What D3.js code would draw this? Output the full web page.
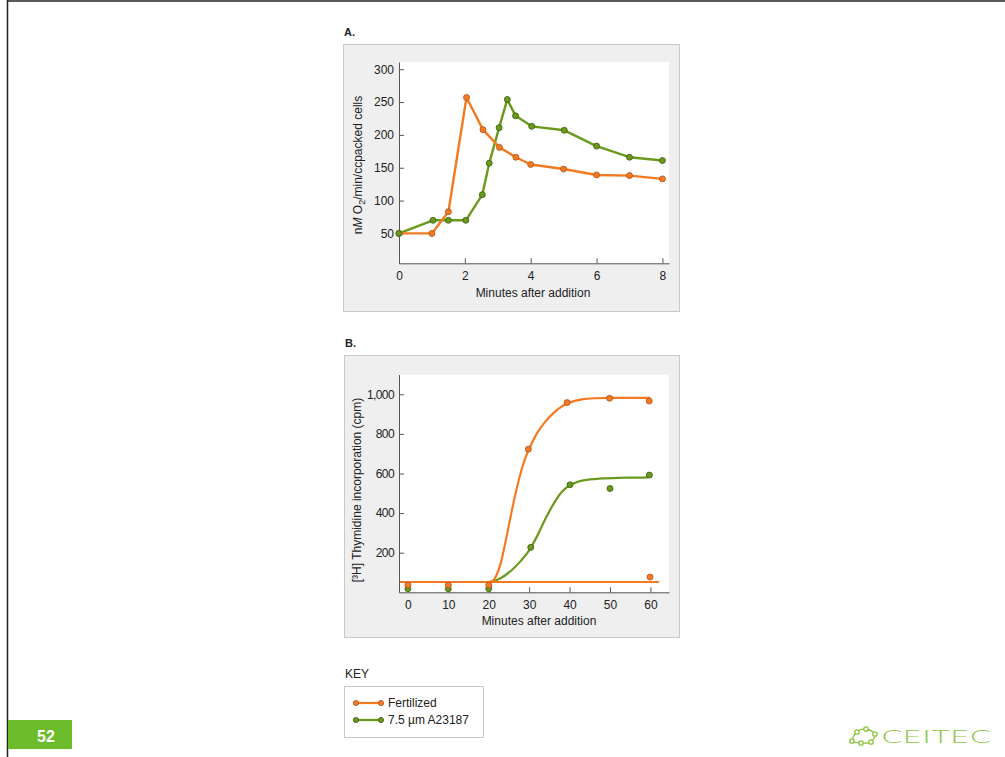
<!DOCTYPE html>
<html>
<head>
<meta charset="utf-8">
<script src="https://cdn.jsdelivr.net/npm/d3@7"></script>
<style>
  html, body { margin: 0; padding: 0; background: #fff; }
  svg { display: block; font-family: "Liberation Sans", Arial, sans-serif; }
</style>
</head>
<body>
<svg id="chart" width="1005" height="757"></svg>
<script>
// ---- Panel A: oxygen consumption (nM O2/min/cc packed cells) ----
const fertMinutesA = [0, 1, 1.5, 2.05, 2.55, 3.05, 3.55, 4, 5, 6, 7, 8];
const fertO2 = [50, 50, 83, 257, 208, 181, 166, 155, 148, 139, 138, 133];
const ionoMinutesA = [0, 1.03, 1.5, 2.03, 2.53, 2.74, 3.04, 3.29, 3.54, 4.03, 5.02, 6, 7, 8];
const ionoO2 = [50, 70, 70, 70, 109, 157, 211, 254, 229, 213, 207, 183, 166, 161];
const ticksAX = [0, 2, 4, 6, 8];
const ticksAY = [50, 100, 150, 200, 250, 300];

// ---- Panel B: [3H] thymidine incorporation (cpm) ----
const fertMinutesB = [0, 10, 20, 29.8, 39.4, 49.9, 59.7, 59.9];
const fertCpm = [37, 37, 37, 723, 958, 980, 966, 77];
const ionoMinutesB = [0, 10, 20, 30.4, 40.1, 50, 59.75];
const ionoCpm = [18, 18, 18, 227, 543, 524, 592];
// fitted curves drawn through the measurements
const fertCurveX = [20, 21, 22, 23, 24, 25, 26, 27, 28, 29, 30, 32, 34, 36, 38, 40, 43, 46, 50, 55, 60];
const fertCurveY = [52, 58, 90, 150, 240, 340, 440, 530, 610, 675, 725, 805, 862, 905, 938, 958, 974, 980, 982, 982, 982];
const ionoCurveX = [20, 22, 24, 26, 28, 30, 32, 34, 36, 38, 40, 42, 45, 48, 52, 56, 59.5];
const ionoCurveY = [50, 62, 85, 118, 160, 212, 285, 370, 445, 505, 540, 558, 570, 575, 578, 579, 580];
const baselineX = [-2, 62.1];
const baselineY = [52, 52];
const ticksBX = [0, 10, 20, 30, 40, 50, 60];
const ticksBY = [200, 400, 600, 800, 1000];

// ---- Key ----
const keyLabels = ["Fertilized", "7.5 \u00b5m A23187"];

const ORANGE = "#f47a22", ORANGE_DARK = "#a9531a";
const GREEN = "#6a9a1c", GREEN_DARK = "#3d5a0e";
const AXIS = "#555", TEXT = "#222";

const svg = d3.select("#chart");

// slide frame
svg.append("line").attr("x1", 7.5).attr("x2", 7.5).attr("y1", 0).attr("y2", 757)
  .attr("stroke", "#222").attr("stroke-width", 1.5);
svg.append("line").attr("x1", 7).attr("x2", 1005).attr("y1", 1).attr("y2", 1)
  .attr("stroke", "#222").attr("stroke-width", 1.5);

function panel(cfg) {
  const g = svg.append("g");
  // grey panel box
  g.append("rect").attr("x", cfg.box[0] + 0.5).attr("y", cfg.box[1] + 0.5)
    .attr("width", cfg.box[2]).attr("height", cfg.box[3])
    .attr("fill", "#efefef").attr("stroke", "#c9c9c9");
  // panel letter
  g.append("text").attr("x", cfg.box[0] + 1).attr("y", cfg.box[1] - 8)
    .attr("font-size", 11).attr("font-weight", "bold").attr("fill", TEXT).text(cfg.letter);

  const x = cfg.x, y = cfg.y;
  const [x0, x1] = x.range(), [y0, y1] = y.range();
  // white plot area
  g.append("rect").attr("x", x0).attr("y", y1).attr("width", x1 - x0).attr("height", y0 - y1)
    .attr("fill", "#fff");

  // axes with inward ticks
  const ax = g.append("g").attr("transform", `translate(0,${y0})`)
    .call(d3.axisBottom(x).tickValues(cfg.ticksX).tickSizeInner(-5).tickSizeOuter(0).tickPadding(6).tickFormat(cfg.fmtX || d3.format("d")));
  const ay = g.append("g").attr("transform", `translate(${x0},0)`)
    .call(d3.axisLeft(y).tickValues(cfg.ticksY).tickSizeInner(-5).tickSizeOuter(0).tickPadding(5).tickFormat(cfg.fmtY || d3.format("d")));
  [ax, ay].forEach(a => {
    a.select(".domain").attr("stroke", AXIS);
    a.selectAll(".tick line").attr("stroke", AXIS);
    a.selectAll("text").attr("font-size", 12).attr("fill", TEXT)
      .attr("font-family", "'Liberation Sans', Arial, sans-serif");
  });
  ax.selectAll("text").attr("dy", "0.9em");
  if (cfg.yTickSpacing) ay.selectAll("text").attr("letter-spacing", cfg.yTickSpacing);

  // axis titles
  g.append("text").attr("x", cfg.xTitlePos[0]).attr("y", cfg.xTitlePos[1])
    .attr("text-anchor", "middle").attr("font-size", 12).attr("fill", TEXT).text("Minutes after addition");
  const yt = g.append("text").attr("transform", `translate(${cfg.yTitlePos[0]},${cfg.yTitlePos[1]}) rotate(-90)`)
    .attr("text-anchor", "middle").attr("font-size", 12).attr("fill", TEXT);
  cfg.yTitle(yt);
  return g;
}

function dots(g, x, y, xs, ys, fill, stroke) {
  g.append("g").selectAll("circle").data(xs.map((d, i) => [d, ys[i]])).join("circle")
    .attr("cx", d => x(d[0])).attr("cy", d => y(d[1])).attr("r", 3)
    .attr("fill", fill).attr("stroke", stroke).attr("stroke-width", 0.8);
}

// ---------- Panel A ----------
const xA = d3.scaleLinear().domain([0, 8.2]).range([399, 669]);
const yA = d3.scaleLinear().domain([4.5, 311]).range([263.3, 62]);
const gA = panel({
  box: [343, 44, 336, 267], letter: "A.", x: xA, y: yA,
  ticksX: ticksAX, ticksY: ticksAY,
  xTitlePos: [533, 297], yTitlePos: [362, 165],
  yTitle: t => {
    t.append("tspan").text("n");
    t.append("tspan").attr("font-style", "italic").text("M");
    t.append("tspan").text(" O");
    t.append("tspan").attr("font-size", 9).attr("dy", 3).text("2");
    t.append("tspan").attr("dy", -3).text("/min/ccpacked cells");
  }
});
const lineA = d3.line().x(d => xA(d[0])).y(d => yA(d[1]));
gA.append("path").datum(ionoMinutesA.map((d, i) => [d, ionoO2[i]])).attr("d", lineA)
  .attr("fill", "none").attr("stroke", GREEN).attr("stroke-width", 2.4).attr("stroke-linejoin", "round");
gA.append("path").datum(fertMinutesA.map((d, i) => [d, fertO2[i]])).attr("d", lineA)
  .attr("fill", "none").attr("stroke", ORANGE).attr("stroke-width", 2.4).attr("stroke-linejoin", "round");
dots(gA, xA, yA, fertMinutesA, fertO2, ORANGE, ORANGE_DARK);
dots(gA, xA, yA, ionoMinutesA, ionoO2, GREEN, GREEN_DARK);

// ---------- Panel B ----------
const xB = d3.scaleLinear().domain([-2.2, 64.6]).range([399, 669]);
const yB = d3.scaleLinear().domain([0, 1100]).range([592.3, 374.5]);
const gB = panel({
  box: [344, 355, 335, 282], letter: "B.", x: xB, y: yB,
  ticksX: ticksBX, ticksY: ticksBY, fmtY: d3.format(","), yTickSpacing: -0.6,
  xTitlePos: [539, 625], yTitlePos: [361, 490],
  yTitle: t => t.text("[\u00b3H] Thymidine incorporation (cpm)")
});
const curveB = d3.line().x(d => xB(d[0])).y(d => yB(d[1])).curve(d3.curveMonotoneX);
gB.append("path").datum(ionoCurveX.map((d, i) => [d, ionoCurveY[i]])).attr("d", curveB)
  .attr("fill", "none").attr("stroke", GREEN).attr("stroke-width", 2.2);
gB.append("path").datum(fertCurveX.map((d, i) => [d, fertCurveY[i]])).attr("d", curveB)
  .attr("fill", "none").attr("stroke", ORANGE).attr("stroke-width", 2.2);
gB.append("path").datum(baselineX.map((d, i) => [d, baselineY[i]])).attr("d", curveB)
  .attr("fill", "none").attr("stroke", ORANGE).attr("stroke-width", 2.2);
dots(gB, xB, yB, ionoMinutesB, ionoCpm, GREEN, GREEN_DARK);
dots(gB, xB, yB, fertMinutesB, fertCpm, ORANGE, ORANGE_DARK);

// ---------- Key ----------
const key = svg.append("g");
key.append("text").attr("x", 345).attr("y", 678).attr("font-size", 12).attr("fill", TEXT).text("KEY");
key.append("rect").attr("x", 344.5).attr("y", 686.5).attr("width", 139).attr("height", 51)
  .attr("fill", "#fff").attr("stroke", "#c9c9c9");
const keyColors = [[ORANGE, ORANGE_DARK], [GREEN, GREEN_DARK]];
keyLabels.forEach((lab, i) => {
  const yy = 703 + i * 17;
  key.append("line").attr("x1", 356).attr("x2", 381).attr("y1", yy).attr("y2", yy)
    .attr("stroke", keyColors[i][0]).attr("stroke-width", 2.2);
  [356, 381].forEach(cx => key.append("circle").attr("cx", cx).attr("cy", yy).attr("r", 2.6)
    .attr("fill", keyColors[i][0]).attr("stroke", keyColors[i][1]).attr("stroke-width", 0.8));
  key.append("text").attr("x", 388).attr("y", yy + 4).attr("font-size", 12).attr("fill", TEXT).text(lab);
});

// ---------- Slide footer ----------
svg.append("rect").attr("x", 8).attr("y", 720).attr("width", 64).attr("height", 29).attr("fill", "#6cbb2a");
svg.append("text").attr("x", 46).attr("y", 742).attr("text-anchor", "middle")
  .attr("font-size", 16).attr("font-weight", "bold").attr("fill", "#fff").text("52");

// CEITEC logo
const logo = svg.append("g").attr("stroke", "#8cc63f").attr("fill", "none").attr("stroke-width", 1.3);
const nodes = [[852, 741], [857, 732], [866, 729], [875, 734], [871, 742], [861, 743]];
logo.append("path").attr("d", d3.line().curve(d3.curveCardinalClosed)(nodes));
nodes.forEach(n => logo.append("circle").attr("cx", n[0]).attr("cy", n[1]).attr("r", 2.2).attr("fill", "#fff"));
svg.append("text").attr("x", 881).attr("y", 743).attr("font-size", 18)
  .attr("textLength", 110).attr("lengthAdjust", "spacingAndGlyphs")
  .attr("fill", "#8cc63f").attr("font-family", "'DejaVu Sans', sans-serif").attr("font-weight", 200)
  .text("CEITEC");
</script>
</body>
</html>
